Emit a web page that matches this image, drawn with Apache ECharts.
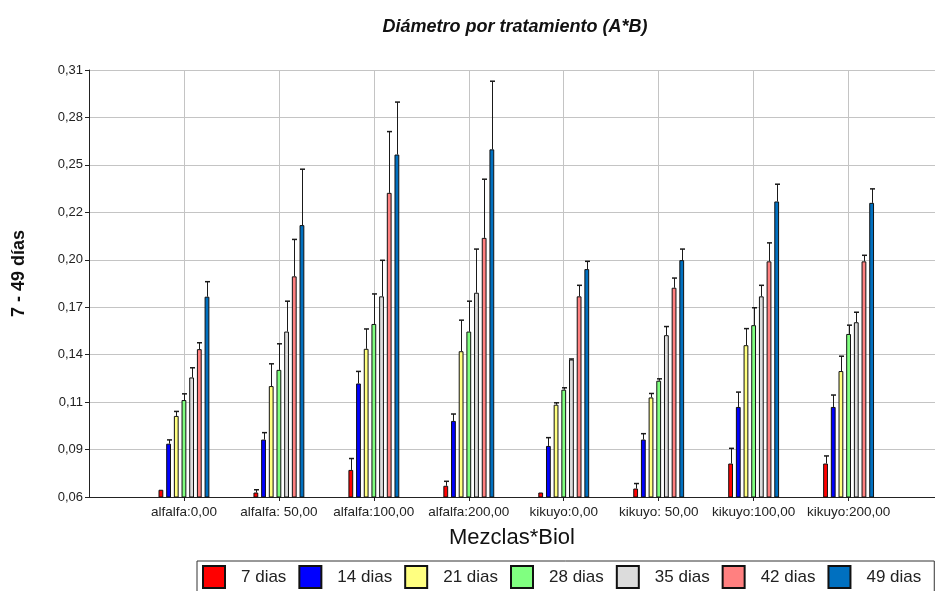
<!DOCTYPE html>
<html>
<head>
<meta charset="utf-8">
<script src="https://cdn.jsdelivr.net/npm/echarts@6/dist/echarts.min.js"></script>
<style>html,body{margin:0;padding:0;background:#fff;overflow:hidden}#c{width:935px;height:591px}</style>
</head>
<body>
<div id="c"></div>
<script>
const categories = ['alfalfa:0,00', 'alfalfa: 50,00', 'alfalfa:100,00', 'alfalfa:200,00', 'kikuyo:0,00', 'kikuyo: 50,00', 'kikuyo:100,00', 'kikuyo:200,00'];
const seriesNames = ['7 dias', '14 dias', '21 dias', '28 dias', '35 dias', '42 dias', '49 dias'];
const yTickLabels = ['0,06', '0,09', '0,11', '0,14', '0,17', '0,20', '0,22', '0,25', '0,28', '0,31'];

const d7  = [0.0642, 0.0626, 0.0757, 0.0665, 0.0626, 0.0649, 0.0794, 0.0794];
const d14 = [0.0909, 0.0933, 0.1258, 0.1041, 0.0896, 0.0933, 0.1122, 0.1122];
const d21 = [0.1070, 0.1243, 0.1459, 0.1445, 0.1135, 0.1177, 0.1480, 0.1330];
const d28 = [0.1162, 0.1337, 0.1603, 0.1559, 0.1222, 0.1274, 0.1596, 0.1545];
const d35 = [0.1293, 0.1559, 0.1763, 0.1784, 0.1397, 0.1538, 0.1763, 0.1613];
const d42 = [0.1457, 0.1879, 0.2363, 0.2102, 0.1763, 0.1813, 0.1966, 0.1966];
const d49 = [0.1761, 0.2176, 0.2585, 0.2615, 0.1921, 0.1973, 0.2313, 0.2305];

const e7  = [0, 0.0016, 0.0066, 0.0026, 0, 0.0029, 0.0088, 0.0044];
const e14 = [0.0022, 0.0040, 0.0070, 0.0040, 0.0048, 0.0034, 0.0086, 0.0069];
const e21 = [0.0026, 0.0129, 0.0115, 0.0180, 0.0011, 0.0023, 0.0096, 0.0086];
const e28 = [0.0036, 0.0151, 0.0174, 0.0176, 0.0011, 0.0011, 0.0101, 0.0051];
const e35 = [0.0056, 0.0176, 0.0209, 0.0253, 0.0003, 0.0050, 0.0064, 0.0058];
const e42 = [0.0037, 0.0214, 0.0355, 0.0340, 0.0064, 0.0056, 0.0107, 0.0035];
const e49 = [0.0087, 0.0324, 0.0304, 0.0395, 0.0045, 0.0064, 0.0100, 0.0081];

const colors = ['#ff0000', '#0000ff', '#ffff80', '#80ff80', '#dcdcdc', '#ff8080', '#0070c0'];

const means = [d7, d14, d21, d28, d35, d42, d49];
const errs = [e7, e14, e21, e28, e35, e42, e49];
const catPositions = categories.map((c, i) => i + 1);

const BAR_W = 4.8;
const BAR_GAP = 0.6;
const PITCH = BAR_W * (1 + BAR_GAP);
const FONT = "'Liberation Sans', Arial, sans-serif";

const yMin = 0.06, yStep = 0.0275, yMax = 0.06 + 9 * 0.0275;

const barSeries = seriesNames.map((name, k) => ({
  name: name,
  type: 'bar',
  barWidth: BAR_W,
  barGap: (BAR_GAP * 100) + '%',
  itemStyle: { color: colors[k], borderColor: '#111', borderWidth: 1 },
  data: means[k].map((v, i) => [catPositions[i], v]),
  z: 2
}));

const errData = [];
means.forEach((arr, k) => arr.forEach((v, i) => errData.push([catPositions[i], k, v, errs[k][i]])));

const errSeries = {
  name: 'error',
  type: 'custom',
  z: 3,
  encode: { x: 0, y: 2 },
  data: errData,
  renderItem: function (params, api) {
    const x = api.value(0), k = api.value(1), m = api.value(2), e = api.value(3);
    if (!(e > 0)) return null;
    const p0 = api.coord([x, m]);
    const p1 = api.coord([x, m + e]);
    const cx = Math.round(p0[0] + (k - 3) * PITCH) + 0.5;
    return {
      type: 'group',
      children: [
        { type: 'line', shape: { x1: cx, y1: p0[1], x2: cx, y2: p1[1] }, style: { stroke: '#1a1a1a', lineWidth: 1 } },
        { type: 'line', shape: { x1: cx - 2.5, y1: p1[1], x2: cx + 2.5, y2: p1[1] }, style: { stroke: '#1a1a1a', lineWidth: 1.5 } }
      ]
    };
  }
};

const chart = echarts.init(document.getElementById('c'), null, { renderer: 'canvas' });
chart.setOption({
  backgroundColor: '#ffffff',
  animation: false,
  textStyle: { fontFamily: FONT },
  title: {
    text: 'Diámetro por tratamiento (A*B)',
    left: 510,
    textAlign: 'center',
    top: 13,
    textStyle: { fontSize: 18, fontWeight: 'bold', fontStyle: 'italic', color: '#111', fontFamily: FONT }
  },
  legend: {
    data: seriesNames,
    left: 197,
    top: 561,
    orient: 'horizontal',
    itemWidth: 22,
    itemHeight: 22,
    itemGap: 12,
    padding: [4, 13, 10, 5],
    borderColor: '#333',
    borderWidth: 1,
    icon: 'rect',
    textStyle: { fontSize: 17, color: '#222', width: 56, padding: [0, 0, 0, 11], fontFamily: FONT }
  },
  grid: { left: 89, right: 0, top: 70, bottom: 94, containLabel: false, outerBoundsMode: 'none' },
  xAxis: {
    type: 'value',
    min: 0,
    max: 8.91,
    name: 'Mezclas*Biol',
    nameLocation: 'middle',
    nameGap: 30,
    nameTextStyle: { fontSize: 22, color: '#111', fontFamily: FONT },
    axisLine: { show: true, onZero: false, lineStyle: { color: '#222', width: 1 } },
    axisTick: { show: true, length: 4, lineStyle: { color: '#222' }, customValues: catPositions },
    axisLabel: {
      fontSize: 13.5, color: '#222', margin: 8, fontFamily: FONT,
      customValues: catPositions,
      formatter: function (v) {
        const i = Math.round(v);
        return (i >= 1 && i <= categories.length) ? categories[i - 1] : '';
      }
    },
    splitLine: { show: true, lineStyle: { color: '#c4c4c4', width: 1 } }
  },
  yAxis: {
    type: 'value',
    min: yMin,
    max: yMax,
    interval: yStep,
    name: '7 - 49 días',
    nameLocation: 'middle',
    nameGap: 61,
    nameTextStyle: { fontSize: 18, fontWeight: 'bold', color: '#111', fontFamily: FONT, padding: [0, 0, 0, 20] },
    axisLine: { show: true, onZero: false, lineStyle: { color: '#222', width: 1 } },
    axisTick: { show: true, length: 4, lineStyle: { color: '#222' } },
    axisLabel: {
      fontSize: 13, color: '#222', margin: 6, fontFamily: FONT,
      formatter: function (v) {
        const idx = Math.round((v - yMin) / yStep);
        return yTickLabels[idx] !== undefined ? yTickLabels[idx] : '';
      }
    },
    splitLine: { show: true, lineStyle: { color: '#c4c4c4', width: 1 } }
  },
  series: barSeries.concat([errSeries])
});
</script>
</body>
</html>
